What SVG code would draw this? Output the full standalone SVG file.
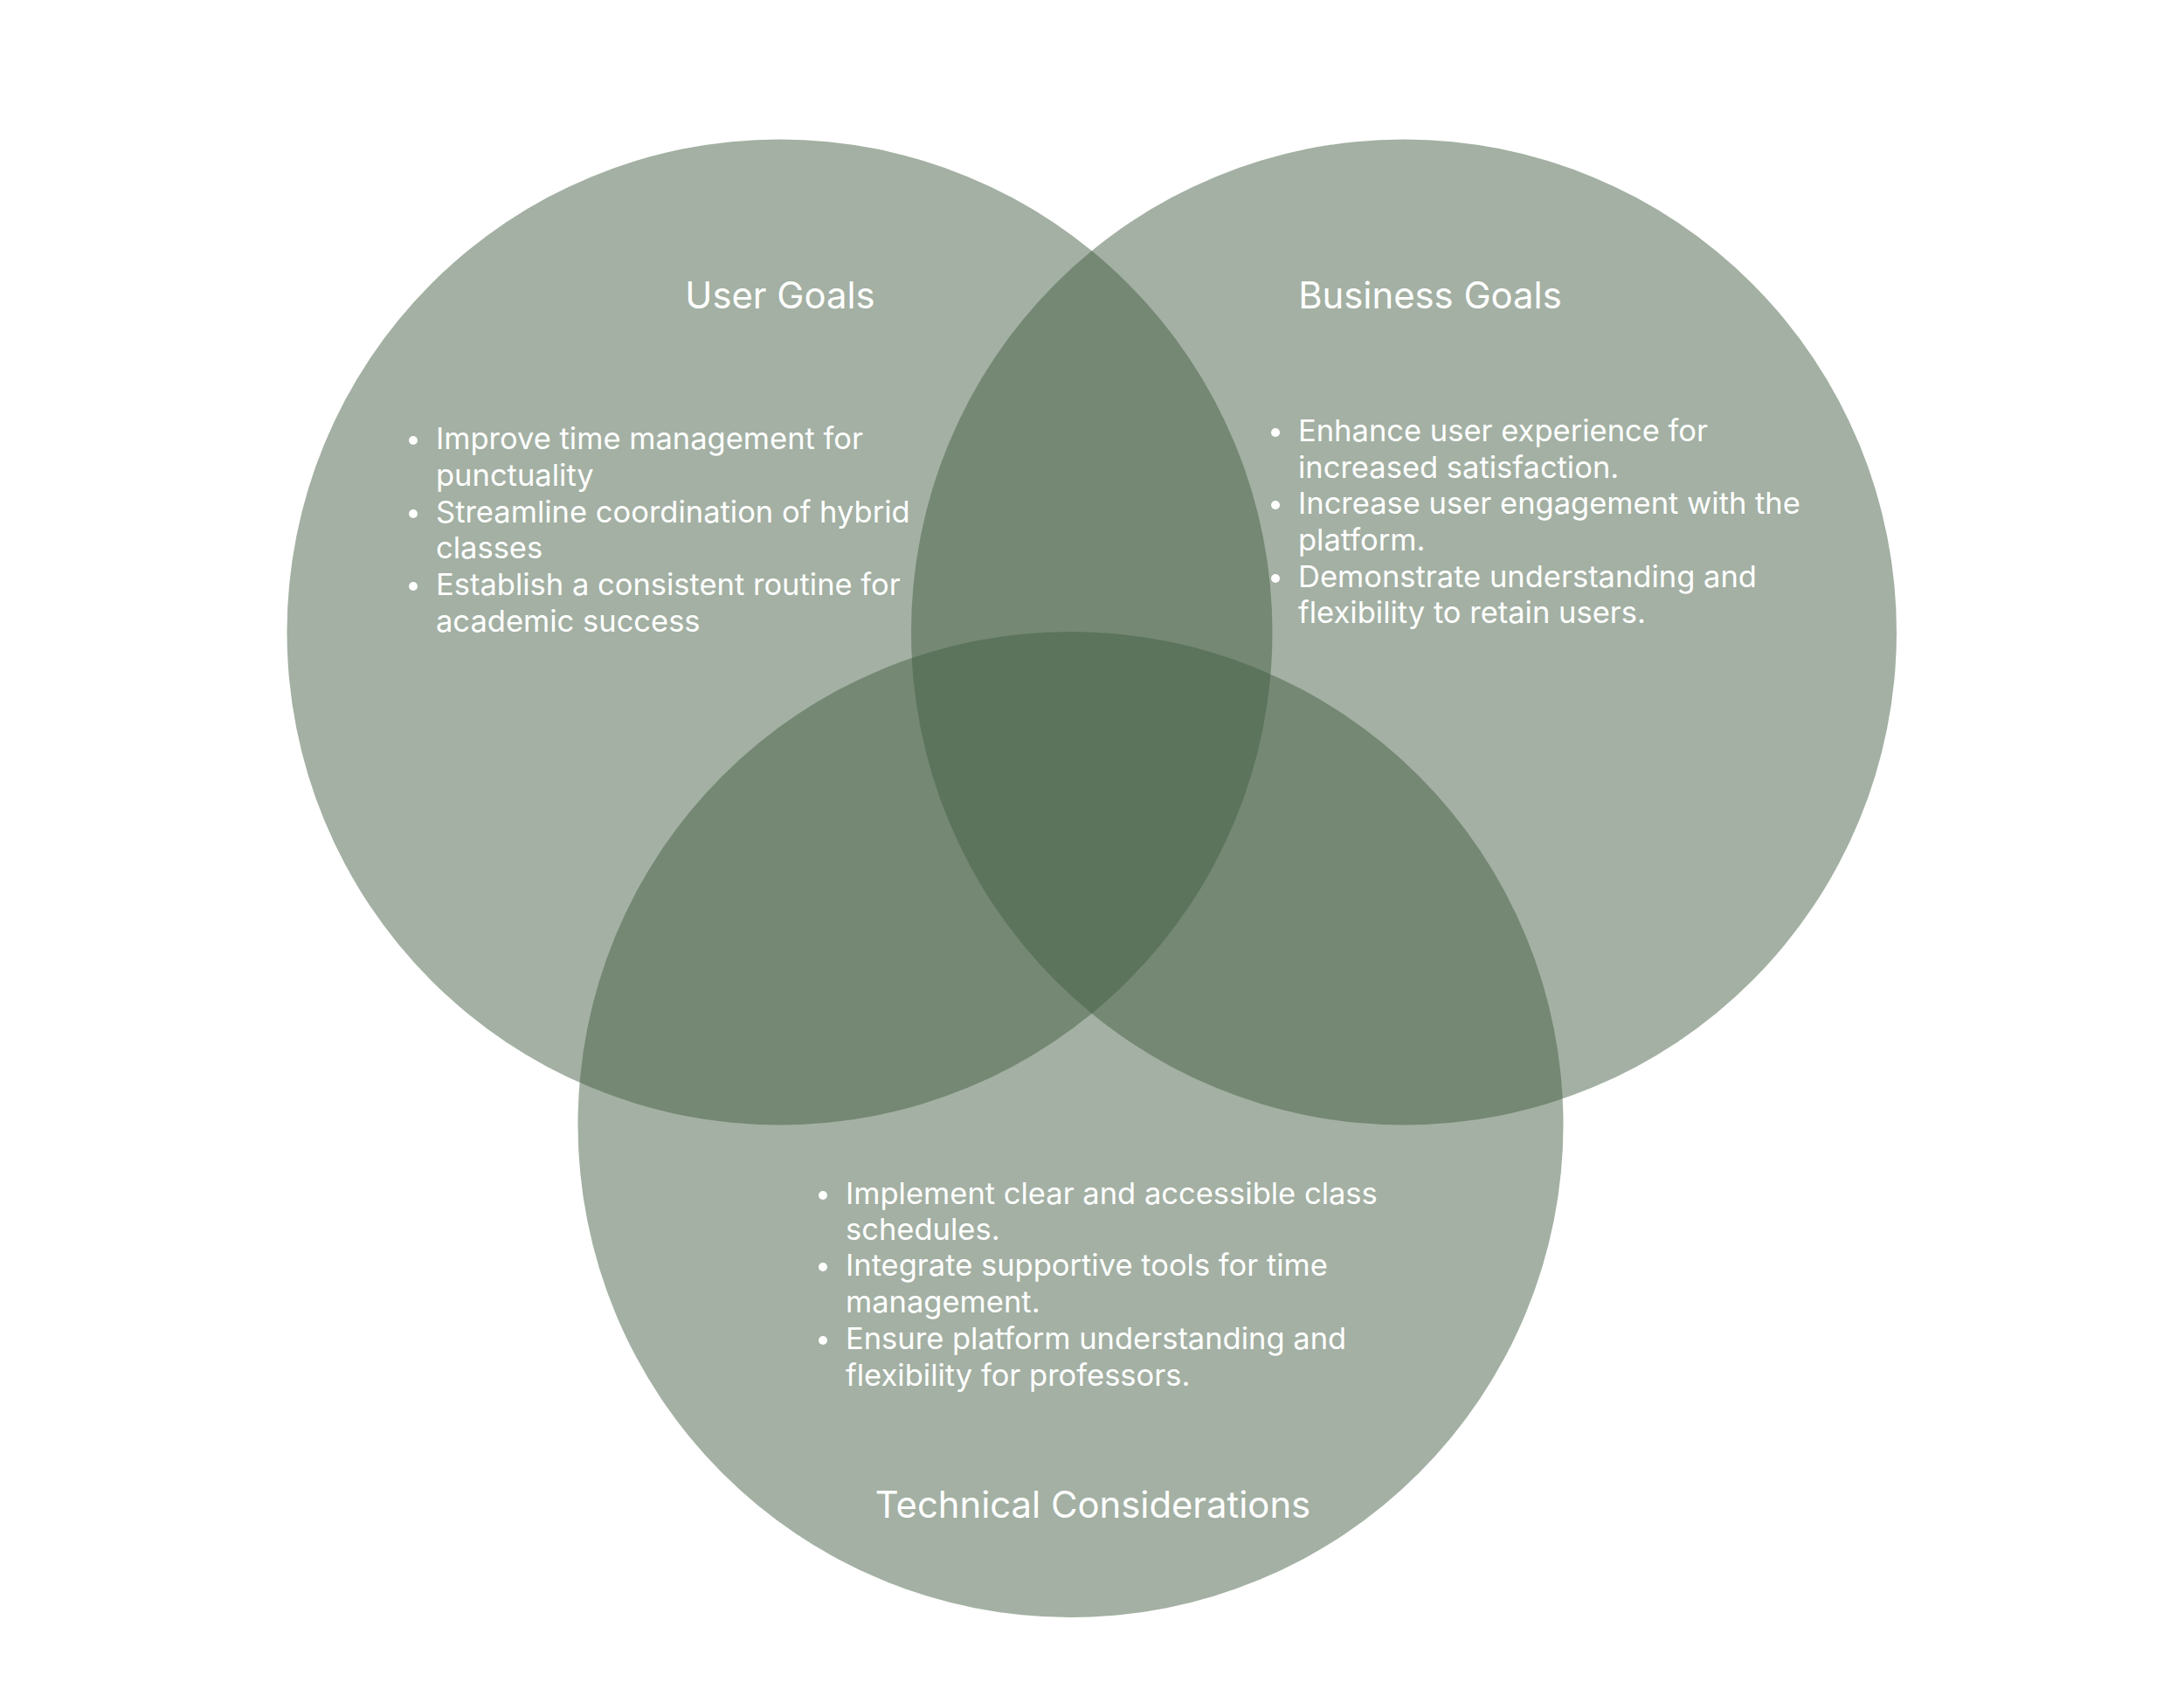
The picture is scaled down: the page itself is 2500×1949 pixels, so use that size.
<svg xmlns="http://www.w3.org/2000/svg" width="2500" height="1949" viewBox="0 0 2500 1949">
  <style>
    .circle { fill: #435d43; fill-opacity: 0.49; }
    .title { font-family: Inter, "Noto Sans", "Liberation Sans", sans-serif; font-size: 41.8px; fill: #ffffff; text-anchor: middle; }
    .item { font-family: Inter, "Noto Sans", "Liberation Sans", sans-serif; font-size: 34.5px; fill: #ffffff; }
    .dot { fill: #ffffff; }
  </style>
  <rect x="0" y="0" width="2500" height="1949" fill="#ffffff"/>
  <g id="user-goals">
    <circle class="circle" cx="892.5" cy="723.5" r="564"/>
    <text class="title" x="893" y="353">User Goals</text>
    <circle class="dot" cx="473" cy="504" r="5"/>
    <text class="item" x="499" y="514">Improve time management for</text>
    <text class="item" x="499" y="556">punctuality</text>
    <circle class="dot" cx="473" cy="588" r="5"/>
    <text class="item" x="499" y="598">Streamline coordination of hybrid</text>
    <text class="item" x="499" y="639">classes</text>
    <circle class="dot" cx="473" cy="671" r="5"/>
    <text class="item" x="499" y="681">Establish a consistent routine for</text>
    <text class="item" x="499" y="723">academic success</text>
  </g>
  <g id="business-goals">
    <circle class="circle" cx="1607" cy="723.5" r="564"/>
    <text class="title" x="1637" y="353">Business Goals</text>
    <circle class="dot" cx="1460" cy="495" r="5"/>
    <text class="item" x="1486" y="505">Enhance user experience for</text>
    <text class="item" x="1486" y="547">increased satisfaction.</text>
    <circle class="dot" cx="1460" cy="578" r="5"/>
    <text class="item" x="1486" y="588">Increase user engagement with the</text>
    <text class="item" x="1486" y="630">platform.</text>
    <circle class="dot" cx="1460" cy="662" r="5"/>
    <text class="item" x="1486" y="672">Demonstrate understanding and</text>
    <text class="item" x="1486" y="713">flexibility to retain users.</text>
  </g>
  <g id="technical-considerations">
    <circle class="circle" cx="1225.5" cy="1287" r="564"/>
    <text class="title" x="1251" y="1737">Technical Considerations</text>
    <circle class="dot" cx="942" cy="1368" r="5"/>
    <text class="item" x="968" y="1378">Implement clear and accessible class</text>
    <text class="item" x="968" y="1419">schedules.</text>
    <circle class="dot" cx="942" cy="1450" r="5"/>
    <text class="item" x="968" y="1460">Integrate supportive tools for time</text>
    <text class="item" x="968" y="1502">management.</text>
    <circle class="dot" cx="942" cy="1534" r="5"/>
    <text class="item" x="968" y="1544">Ensure platform understanding and</text>
    <text class="item" x="968" y="1586">flexibility for professors.</text>
  </g>
  <g id="connectors"></g>
</svg>
